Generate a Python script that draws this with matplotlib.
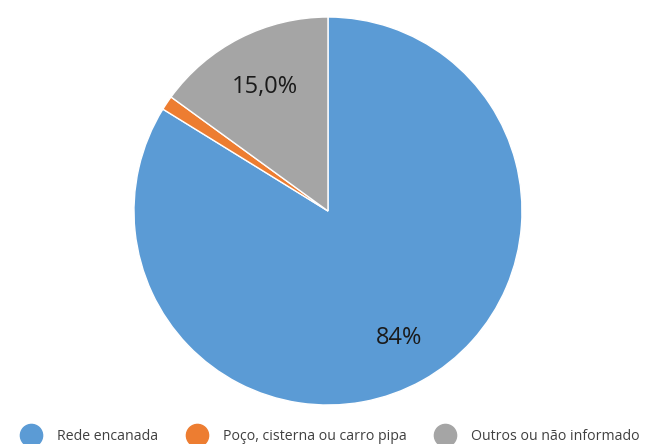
import numpy as np
import matplotlib.pyplot as plt
from matplotlib.lines import Line2D

plt.rcParams['font.family'] = ['Open Sans', 'DejaVu Sans']

categories = ["Rede encanada", "Poço, cisterna ou carro pipa", "Outros ou não informado"]
values = [83.8, 1.2, 15.0]
pct_labels = ["84%", "", "15,0%"]
colors = ["#5B9BD5", "#ED7D31", "#A5A5A5"]

fig = plt.figure(figsize=(6.46, 4.44), dpi=100)
ax = fig.add_axes([0.2074, 0.0878, 0.6006, 0.8739])

wedges, _ = ax.pie(values, colors=colors, startangle=90, counterclock=False,
                   wedgeprops=dict(edgecolor='white', linewidth=1))
ax.set_aspect('equal')
ax.set_xlim(-1, 1)
ax.set_ylim(-1, 1)

# percentage labels placed along each wedge's middle angle
dist = [0.75, 0.0, 0.72]
for w, lab, d in zip(wedges, pct_labels, dist):
    if not lab:
        continue
    ang = np.deg2rad((w.theta1 + w.theta2) / 2)
    ax.text(d * np.cos(ang), d * np.sin(ang), lab, ha='center', va='center',
            fontsize=17, color='#1a1a1a')

handles = [Line2D([0], [0], marker='o', linestyle='', markersize=16,
                  markerfacecolor=c, markeredgecolor=c) for c in colors]
fig.legend(handles, categories, loc='center', bbox_to_anchor=(0.511, 0.018),
           ncol=3, frameon=False, fontsize=10.2, handletextpad=1.05,
           columnspacing=2.0, handlelength=1.5, borderpad=0, borderaxespad=0,
           labelcolor='#404040')

fig.savefig("out.png", dpi=100)
